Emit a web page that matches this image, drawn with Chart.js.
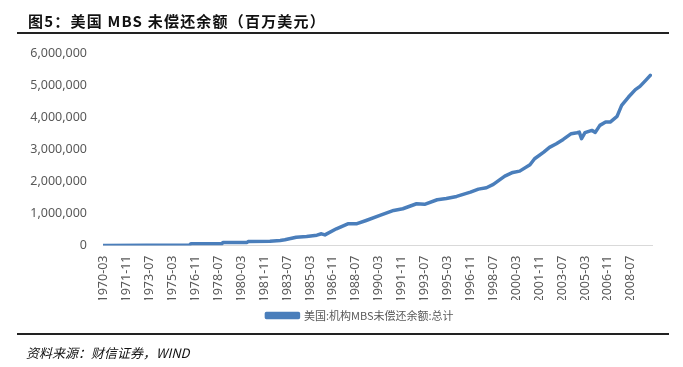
<!DOCTYPE html>
<html>
<head>
<meta charset="utf-8">
<script src="https://cdn.jsdelivr.net/npm/chart.js@4/dist/chart.umd.min.js"></script>
<style>
    body { margin: 0; background: #fff; }
    #wrap { position: relative; width: 683px; height: 367px; }
    #myLineChart { position: absolute; left: 0; top: 0; }
    .title { position: absolute; left: 28px; top: 10px; font: bold 15px "Noto Sans CJK SC"; letter-spacing: 1.2px; color: #111; white-space: nowrap; }
    .rule { position: absolute; left: 17px; width: 652px; height: 2px; background: #222; }
    .source { position: absolute; left: 26px; top: 343px; font: italic 13px "Noto Sans CJK SC"; color: #111; white-space: nowrap; }
</style>
</head>
<body>
<div id="wrap">
    <canvas id="myLineChart" width="683" height="367"></canvas>
    <div class="title">图5：美国 MBS 未偿还余额（百万美元）</div>
    <div class="rule" style="top: 32px;"></div>
    <div class="rule" style="top: 333px;"></div>
    <div class="source">资料来源：财信证券，WIND</div>
</div>
<script>
// month, value in millions of USD
const dates = [
    '1970-03', '1976-06', '1976-07', '1978-10', '1978-11', '1980-08', '1980-09', '1982-04',
    '1983-01', '1983-05', '1984-03', '1984-12', '1985-09', '1986-01', '1986-04', '1987-02',
    '1987-12', '1988-08', '1989-04', '1990-04', '1991-04', '1991-12', '1992-12', '1993-07',
    '1994-06', '1995-02', '1995-11', '1996-11', '1997-06', '1998-01', '1998-07', '1999-05',
    '1999-12', '2000-06', '2001-03', '2001-07', '2002-03', '2002-08', '2003-02', '2003-08',
    '2004-03', '2004-08', '2004-10', '2004-12', '2005-03', '2005-09', '2005-12', '2006-04',
    '2006-09', '2007-01', '2007-07', '2007-11', '2008-05', '2008-11', '2009-03', '2009-08',
    '2009-12',
];
const mbsOutstanding = [
    500, 15000, 53000, 53000, 94000, 94000, 125000, 130000,
    156000, 178000, 259000, 281000, 321000, 365000, 330000, 521000,
    677000, 680000, 780000, 936000, 1092000, 1145000, 1301000, 1285000,
    1426000, 1466000, 1529000, 1663000, 1757000, 1800000, 1903000, 2162000,
    2278000, 2318000, 2518000, 2705000, 2911000, 3058000, 3173000, 3307000,
    3485000, 3516000, 3535000, 3329000, 3516000, 3588000, 3526000, 3744000,
    3847000, 3847000, 4025000, 4368000, 4627000, 4858000, 4961000, 5148000,
    5304000,
];
const tickLabels = [
    '1970-03', '1971-11', '1973-07', '1975-03', '1976-11', '1978-07', '1980-03', '1981-11',
    '1983-07', '1985-03', '1986-11', '1988-07', '1990-03', '1991-11', '1993-07', '1995-03',
    '1996-11', '1998-07', '2000-03', '2001-11', '2003-07', '2005-03', '2006-11', '2008-07',
];
const seriesName = '美国:机构MBS未偿还余额:总计';

// months since 1970-03
const toIndex = (s) => (Number(s.slice(0, 4)) - 1970) * 12 + Number(s.slice(5, 7)) - 3;
const toLabel = (i) => {
    const m = i + 2;
    return `${1970 + Math.floor(m / 12)}-${String((m % 12) + 1).padStart(2, '0')}`;
};

const blue = '#4a7ebb';
const grey = '#595959';
const ctx = document.getElementById('myLineChart').getContext('2d');

// the legend sits a bit right of the canvas centre in the original
const legendShift = {
    id: 'legendShift',
    afterLayout(chart) {
        chart.legend.left += 34;
        chart.legend.right += 34;
    },
};

new Chart(ctx, {
    type: 'line',
    data: {
        datasets: [
            {
                label: seriesName,
                data: dates.map((d, i) => ({ x: toIndex(d), y: mbsOutstanding[i] })),
                borderColor: blue,
                backgroundColor: blue,
                borderWidth: 3.5,
                pointRadius: 0,
                borderJoinStyle: 'round',
                borderCapStyle: 'round',
                fill: false,
            },
        ],
    },
    plugins: [legendShift],
    options: {
        responsive: false,
        animation: false,
        layout: { padding: { left: 0, right: 31, top: 53, bottom: 36 } },
        plugins: {
            tooltip: { enabled: false },
            legend: {
                position: 'bottom',
                labels: {
                    boxWidth: 32,
                    boxHeight: 4,
                    padding: 10,
                    color: grey,
                    font: { family: '"Noto Sans CJK SC"', size: 11 },
                },
            },
        },
        scales: {
            x: {
                type: 'linear',
                min: -0.7,
                max: 478.5,
                afterBuildTicks: (scale) => {
                    scale.ticks = tickLabels.map((t) => ({ value: toIndex(t) }));
                },
                afterFit: (scale) => { scale.height = 54.5; },
                grid: { display: false, drawTicks: false },
                border: { display: true, color: '#d9d9d9', width: 1 },
                ticks: {
                    autoSkip: false,
                    minRotation: 90,
                    maxRotation: 90,
                    padding: 10,
                    color: grey,
                    font: { family: '"Noto Sans"', size: 12.5 },
                    callback: (v) => toLabel(v),
                },
            },
            y: {
                min: 0,
                max: 6000000,
                afterFit: (scale) => { scale.width = 103; },
                grid: { display: false, drawTicks: false },
                border: { display: false },
                ticks: {
                    stepSize: 1000000,
                    padding: 16,
                    color: grey,
                    font: { family: '"Noto Sans"', size: 12.5 },
                    callback: (v) => v.toLocaleString('en-US'),
                },
            },
        },
    },
});
</script>
</body>
</html>
